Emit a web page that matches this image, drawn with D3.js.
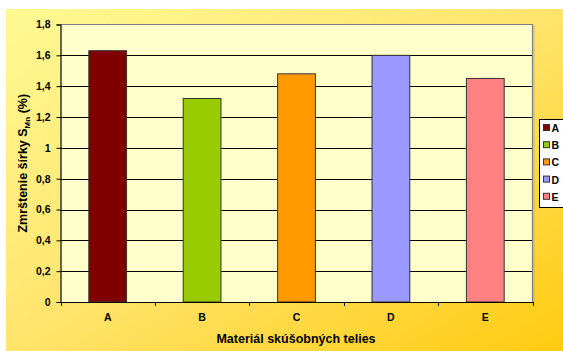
<!DOCTYPE html>
<html>
<head>
<meta charset="utf-8">
<script src="https://cdn.jsdelivr.net/npm/d3@7"></script>
<style>
  html, body { margin: 0; padding: 0; background: #ffffff; }
  svg { display: block; font-family: Arial, "Liberation Sans", sans-serif; }
</style>
</head>
<body>
<svg id="chart" width="563" height="351"></svg>
<script>
// Shrinkage of width per material
const categories = ["A", "B", "C", "D", "E"];
const values = [1.63, 1.32, 1.48, 1.60, 1.45];
const barColors = ["#800000", "#99cc00", "#ff9900", "#9999ff", "#ff8080"];
const yTicks = [0, 0.2, 0.4, 0.6, 0.8, 1, 1.2, 1.4, 1.6, 1.8];

const svg = d3.select("#chart");
const W = 563, H = 351;
const plot = { left: 60.5, right: 532.5, top: 24.5, bottom: 302 };

// Background gradient
const defs = svg.append("defs");
const grad = defs.append("linearGradient")
  .attr("id", "bg").attr("x1", "0").attr("y1", "0").attr("x2", "1").attr("y2", "1");
grad.append("stop").attr("offset", "0%").attr("stop-color", "#fff993");
grad.append("stop").attr("offset", "50%").attr("stop-color", "#ffe46c");
grad.append("stop").attr("offset", "100%").attr("stop-color", "#ffcb10");

svg.append("rect").attr("x", 6).attr("y", 9).attr("width", W - 6).attr("height", H - 9)
  .attr("fill", "url(#bg)");

// Plot area
svg.append("rect")
  .attr("x", plot.left).attr("y", plot.top)
  .attr("width", plot.right - plot.left).attr("height", plot.bottom - plot.top)
  .attr("fill", "#ffffcc");

const x = d3.scaleBand().domain(categories).range([plot.left, plot.right]).paddingInner(0.6).paddingOuter(0.3);
const xTickScale = d3.scaleBand().domain(categories).range([plot.left, plot.right]);
const y = d3.scaleLinear().domain([0, 1.8]).range([plot.bottom, plot.top]);

// Gridlines
svg.append("g").selectAll("line").data(yTicks.filter(t => t > 0 && t < 1.8)).join("line")
  .attr("x1", plot.left).attr("x2", plot.right)
  .attr("y1", d => Math.round(y(d)) + 0.5).attr("y2", d => Math.round(y(d)) + 0.5)
  .attr("stroke", "#000").attr("stroke-width", 1);

// Plot border (top and right)
svg.append("path")
  .attr("d", `M${plot.left},${plot.top}H${plot.right}V${plot.bottom}`)
  .attr("fill", "none").attr("stroke", "#808080").attr("stroke-width", 1.2);
svg.append("line")
  .attr("x1", plot.right + 1.5).attr("x2", plot.right + 1.5)
  .attr("y1", plot.top + 1).attr("y2", plot.bottom + 1)
  .attr("stroke", "#b0a060").attr("stroke-width", 1).attr("opacity", 0.6);

// Bars
svg.append("g").selectAll("rect").data(values).join("rect")
  .attr("x", (d, i) => x(categories[i]))
  .attr("y", d => y(d))
  .attr("width", x.bandwidth())
  .attr("height", d => plot.bottom - y(d))
  .attr("fill", (d, i) => barColors[i])
  .attr("stroke", "#333333").attr("stroke-width", 1);

// Y axis
const yAxis = svg.append("g").attr("transform", `translate(${plot.left},0)`)
  .call(d3.axisLeft(y).tickValues(yTicks).tickSize(4).tickPadding(6)
    .tickFormat(d => d3.format("")(+d.toFixed(1)).replace(".", ",")));
yAxis.select(".domain").attr("stroke", "#000").attr("stroke-width", 1.2);
yAxis.selectAll(".tick line").attr("stroke", "#000");
yAxis.selectAll("text").attr("font-size", 10.5).attr("font-weight", "bold").attr("fill", "#000");

// X axis
const xAxis = svg.append("g").attr("transform", `translate(0,${plot.bottom})`)
  .call(d3.axisBottom(xTickScale).tickSize(0).tickPadding(12));
xAxis.select(".domain").attr("stroke", "#000").attr("stroke-width", 1.2);
xAxis.selectAll("text").attr("font-size", 10.5).attr("font-weight", "bold").attr("fill", "#000");
// Category boundary ticks
const boundaries = categories.map(c => xTickScale(c)).concat([plot.right]);
svg.append("g").selectAll("line").data(boundaries).join("line")
  .attr("x1", d => Math.round(d) + 0.5).attr("x2", d => Math.round(d) + 0.5)
  .attr("y1", plot.bottom).attr("y2", plot.bottom + 4)
  .attr("stroke", "#000");

// Axis titles
const yTitle = svg.append("text")
  .attr("transform", `translate(27,${(plot.top + plot.bottom) / 2}) rotate(-90)`)
  .attr("text-anchor", "middle").attr("font-size", 12.5).attr("font-weight", "bold").attr("fill", "#000");
yTitle.append("tspan").text("Zmrštenie šírky S");
yTitle.append("tspan").attr("font-size", 8).attr("dy", 3).text("Mn");
yTitle.append("tspan").attr("dy", -3).text(" (%)");

svg.append("text")
  .attr("x", 296).attr("y", 343)
  .attr("text-anchor", "middle").attr("font-size", 12.5).attr("font-weight", "bold").attr("fill", "#000")
  .text("Materiál skúšobných telies");

// Legend
const legend = svg.append("g");
legend.append("rect").attr("x", 539.5).attr("y", 119.5).attr("width", 40).attr("height", 88)
  .attr("fill", "#ffffff").attr("stroke", "#000").attr("stroke-width", 1);
const entries = legend.selectAll("g").data(categories).join("g")
  .attr("transform", (d, i) => `translate(543.5,${124.5 + i * 17.2})`);
entries.append("rect").attr("width", 6).attr("height", 6)
  .attr("fill", (d, i) => barColors[i]).attr("stroke", "#333").attr("stroke-width", 1);
entries.append("text").attr("x", 8).attr("y", 7.5)
  .attr("font-size", 10.5).attr("font-weight", "bold").attr("fill", "#000")
  .text(d => d);
</script>
</body>
</html>
